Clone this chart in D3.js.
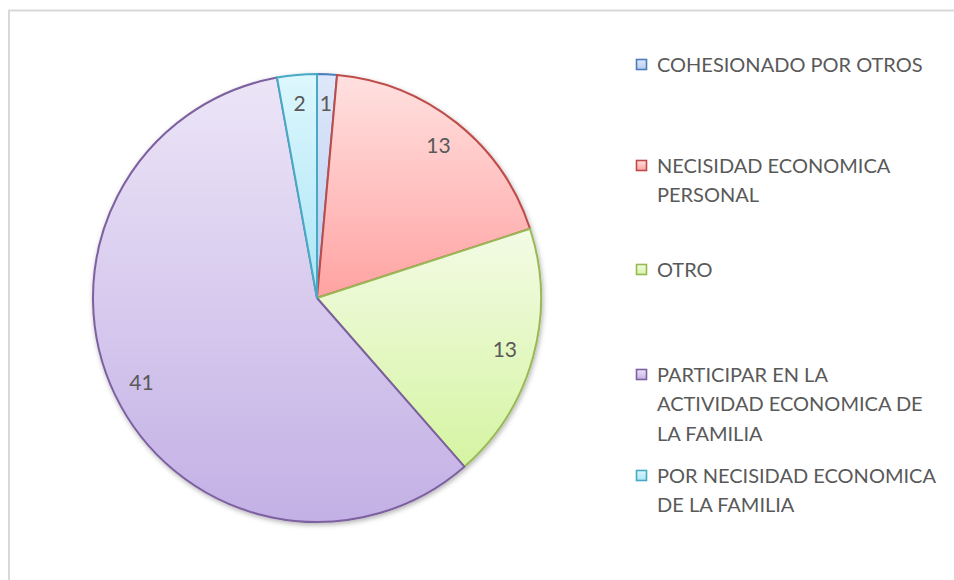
<!DOCTYPE html>
<html>
<head>
<meta charset="utf-8">
<script src="https://cdn.jsdelivr.net/npm/d3@7"></script>
<style>
  body { margin: 0; background: #fff; }
  svg { display: block; }
</style>
</head>
<body>
<svg></svg>
<script>
var width = 954;
var height = 580;

// data
var categories = ["COHESIONADO POR OTROS", "NECISIDAD ECONOMICA PERSONAL", "OTRO",
    "PARTICIPAR EN LA ACTIVIDAD ECONOMICA DE LA FAMILIA", "POR NECISIDAD ECONOMICA DE LA FAMILIA"];
var values = [1, 13, 13, 41, 2];

// how the legend breaks each category name
var legendLines = [
    ["COHESIONADO POR OTROS"],
    ["NECISIDAD ECONOMICA", "PERSONAL"],
    ["OTRO"],
    ["PARTICIPAR EN LA", "ACTIVIDAD ECONOMICA DE", "LA FAMILIA"],
    ["POR NECISIDAD ECONOMICA", "DE LA FAMILIA"]
];

// slice styling (top of gradient, bottom of gradient, outline)
var topColors = ["#dfe8fa", "#ffe1e0", "#f3fbe5", "#ece5f7", "#ddf7fd"];
var bottomColors = ["#b7cbf0", "#ffa3a2", "#d5f4a2", "#c3b0e5", "#ace5f6"];
var strokeColors = ["#4a7ebb", "#be4b48", "#98b954", "#7d60a0", "#46aac5"];

var cx = 317, cy = 298, radius = 224;
var textColor = "#595959";
var font = "Lato, 'Open Sans', sans-serif";

var svg = d3.select("svg")
    .attr("width", width)
    .attr("height", height);

var defs = svg.append("defs");

// soft shadow under the pie
var shadow = defs.append("filter")
    .attr("id", "shadow")
    .attr("x", "-10%").attr("y", "-10%")
    .attr("width", "120%").attr("height", "120%");
shadow.append("feDropShadow")
    .attr("dx", 1).attr("dy", 2)
    .attr("stdDeviation", 2.5)
    .attr("flood-color", "#000")
    .attr("flood-opacity", 0.3);

categories.forEach(function(c, i) {
    var grad = defs.append("linearGradient")
        .attr("id", "grad" + i)
        .attr("x1", 0).attr("y1", 0)
        .attr("x2", 0).attr("y2", 1);
    grad.append("stop").attr("offset", "0%").attr("stop-color", topColors[i]);
    grad.append("stop").attr("offset", "100%").attr("stop-color", bottomColors[i]);
});

// chart frame (cut off on right and bottom)
svg.append("rect")
    .attr("x", 9)
    .attr("y", 10.5)
    .attr("width", 980)
    .attr("height", 600)
    .attr("fill", "none")
    .attr("stroke", "#d9d9d9")
    .attr("stroke-width", 2);

var pie = d3.pie()
    .sort(null)
    .value(function(d) { return d; });

var arc = d3.arc()
    .innerRadius(0)
    .outerRadius(radius);

var labelArc = d3.arc()
    .innerRadius(radius * 0.87)
    .outerRadius(radius * 0.87);

var arcs = pie(values);

var g = svg.append("g")
    .attr("transform", "translate(" + cx + "," + cy + ")");

g.append("g")
    .attr("filter", "url(#shadow)")
    .selectAll("path")
    .data(arcs)
    .enter()
    .append("path")
    .attr("d", arc)
    .attr("fill", function(d, i) { return "url(#grad" + i + ")"; })
    .attr("stroke", function(d, i) { return strokeColors[i]; })
    .attr("stroke-width", 2)
    .attr("stroke-linejoin", "round");

g.selectAll("text.value")
    .data(arcs)
    .enter()
    .append("text")
    .attr("class", "value")
    .attr("transform", function(d) { return "translate(" + labelArc.centroid(d) + ")"; })
    .attr("text-anchor", "middle")
    .attr("dy", "0.36em")
    .style("font-family", font)
    .style("font-size", "21px")
    .style("fill", textColor)
    .text(function(d) { return d.value; });

// legend
var legendX = 636;
var legendY = [64.5, 165.5, 269.5, 374.5, 475.5];   // centre of each entry's first line
var lineHeight = 29.5;

var legend = svg.append("g").attr("class", "legend");

categories.forEach(function(c, i) {
    var item = legend.append("g")
        .attr("transform", "translate(" + legendX + "," + legendY[i] + ")");

    item.append("rect")
        .attr("x", 0.5)
        .attr("y", -5)
        .attr("width", 10)
        .attr("height", 10)
        .attr("fill", "url(#grad" + i + ")")
        .attr("stroke", strokeColors[i])
        .attr("stroke-width", 1.6);

    item.append("text")
        .style("font-family", font)
        .style("font-size", "20px")
        .style("fill", textColor)
        .selectAll("tspan")
        .data(legendLines[i])
        .enter()
        .append("tspan")
        .attr("x", 21)
        .attr("y", function(d, j) { return j * lineHeight; })
        .attr("dy", "0.36em")
        .text(function(d) { return d; });
});
</script>
</body>
</html>
